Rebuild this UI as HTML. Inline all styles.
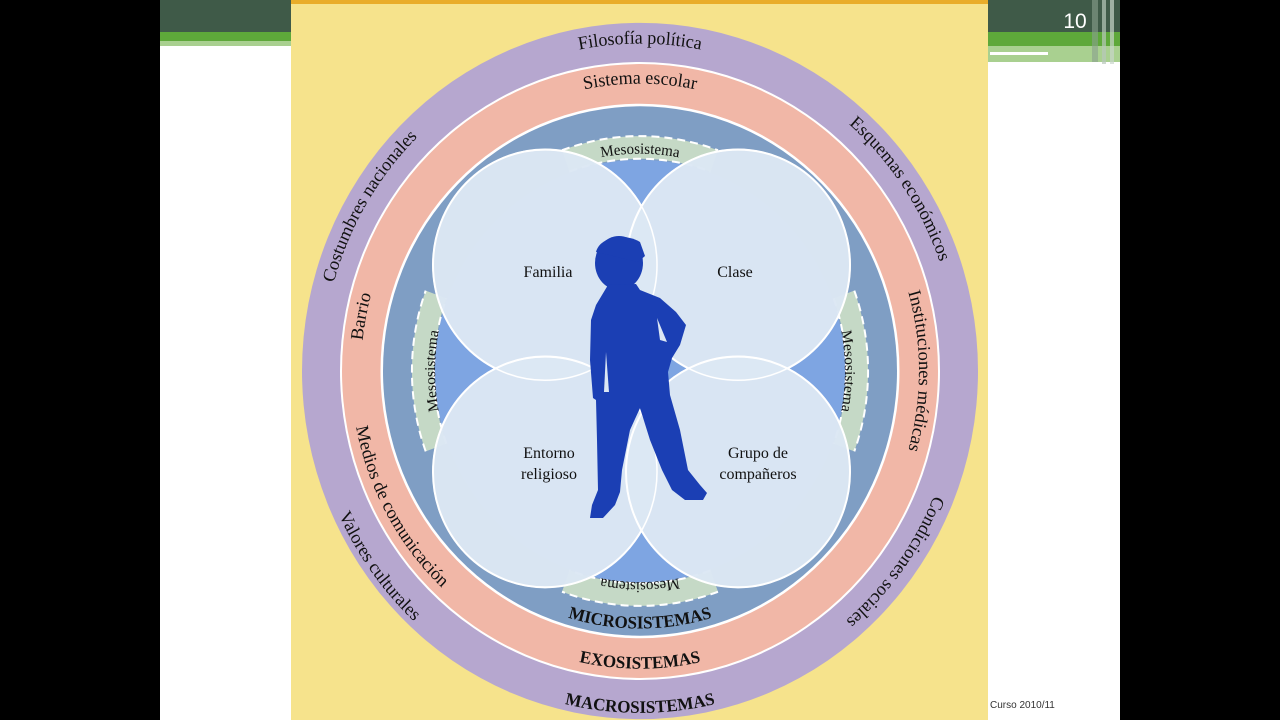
<!DOCTYPE html>
<html><head><meta charset="utf-8"><style>
html,body{margin:0;padding:0;background:#000;}
body{width:1280px;height:720px;overflow:hidden;position:relative;}
</style></head><body>
<svg width="1280" height="720" viewBox="0 0 1280 720" style="position:absolute;left:0;top:0">
<rect x="0" y="0" width="1280" height="720" fill="#000"/>
<rect x="160" y="0" width="960" height="720" fill="#fff"/>
<rect x="160" y="0" width="131" height="32" fill="#3f5a48"/>
<rect x="160" y="32" width="131" height="9" fill="#5ea83a"/>
<rect x="160" y="41" width="131" height="5" fill="#a9d090"/>
<rect x="988" y="0" width="132" height="32" fill="#3f5a48"/>
<rect x="988" y="32" width="132" height="14" fill="#5ea83a"/>
<rect x="988" y="46" width="132" height="16" fill="#a9d090"/>
<rect x="990" y="52" width="58" height="3" fill="#fff"/>
<rect x="1092" y="0" width="6" height="62" fill="#8aa08f" opacity="0.6"/>
<rect x="1102" y="0" width="4" height="64" fill="#b8c8bb" opacity="0.7"/>
<rect x="1110" y="0" width="4" height="64" fill="#c9d6cb" opacity="0.7"/>
<text x="1075" y="28" font-family="Liberation Sans, sans-serif" font-size="21" fill="#fff" text-anchor="middle">10</text>
<text x="990" y="708" font-family="Liberation Sans, sans-serif" font-size="10" fill="#333">Curso 2010/11</text>
<rect x="291" y="0" width="697" height="720" fill="#f6e38c"/>
<rect x="291" y="0" width="697" height="4" fill="#e9ad2a"/>
<g transform="translate(640,371) scale(1,1.03)">
<defs>
<path id="cw318" d="M-318,0 A318,318 0 0 1 318,0 A318,318 0 0 1 -318,0"/>
<path id="cw279" d="M-279,0 A279,279 0 0 1 279,0 A279,279 0 0 1 -279,0"/>
<path id="ccw332" d="M-332,0 A332,332 0 0 0 332,0"/>
<path id="ccw289" d="M-289,0 A289,289 0 0 0 289,0"/>
<path id="ccw250" d="M-250,0 A250,250 0 0 0 250,0"/>
<path id="cw211" d="M-211,0 A211,211 0 0 1 211,0 A211,211 0 0 1 -211,0"/>
<path id="cw205" d="M-205,0 A205,205 0 0 1 205,0 A205,205 0 0 1 -205,0"/>
<path id="cwb205" d="M0,205 A205,205 0 0 1 0,-205 A205,205 0 0 1 0,205"/>
<g id="gap">
<path d="M214.3,-78 A228,228 0 0 1 214.3,78 L193.6,70.5 A206,206 0 0 0 193.6,-70.5 Z" fill="#c5d9c6"/>
<path d="M214.3,-78 A228,228 0 0 1 214.3,78" fill="none" stroke="#fff" stroke-width="2" stroke-dasharray="8,5"/>
<path d="M193.6,-70.5 A206,206 0 0 1 193.6,70.5" fill="none" stroke="#fff" stroke-width="2" stroke-dasharray="8,5"/>
</g>
</defs>
<circle r="338" fill="#b6a7cf"/>
<circle r="300" fill="#fff"/>
<circle r="298" fill="#f1b7a7"/>
<circle r="259.5" fill="#fff"/>
<circle r="257" fill="#7f9ec4"/>
<circle r="205" fill="#7ea5e2"/>
<use href="#gap"/>
<use href="#gap" transform="rotate(90)"/>
<use href="#gap" transform="rotate(180)"/>
<use href="#gap" transform="rotate(270)"/>
<g fill="#dce7f4" stroke="#fff" stroke-width="2" fill-opacity="0.97">
<circle cx="-95" cy="-103" r="112"/>
<circle cx="98" cy="-103" r="112"/>
<circle cx="-95" cy="98" r="112"/>
<circle cx="98" cy="98" r="112"/>
</g>
<g fill="none" stroke="#fff" stroke-width="1.5">
<circle cx="-95" cy="-103" r="112"/>
<circle cx="98" cy="-103" r="112"/>
<circle cx="-95" cy="98" r="112"/>
<circle cx="98" cy="98" r="112"/>
</g>
<g font-family="Liberation Serif, serif" fill="#111" font-size="18">
<text><textPath href="#cw318" startOffset="25%" text-anchor="middle">Filosofía política</textPath></text>
<text><textPath href="#cw318" startOffset="8.5%" text-anchor="middle">Costumbres nacionales</textPath></text>
<text><textPath href="#cw318" startOffset="40.5%" text-anchor="middle">Esquemas económicos</textPath></text>
<text><textPath href="#cw318" startOffset="60%" text-anchor="middle">Condiciones sociales</textPath></text>
<text><textPath href="#ccw332" startOffset="20%" text-anchor="middle">Valores culturales</textPath></text>
<text><textPath href="#cw279" startOffset="25%" text-anchor="middle">Sistema escolar</textPath></text>
<text><textPath href="#cw279" startOffset="3%" text-anchor="middle">Barrio</textPath></text>
<text><textPath href="#cw279" startOffset="50%" text-anchor="middle">Instituciones médicas</textPath></text>
<text><textPath href="#ccw289" startOffset="16%" text-anchor="middle">Medios de comunicación</textPath></text>
<text font-weight="bold" font-size="17"><textPath href="#ccw332" startOffset="50%" text-anchor="middle">MACROSISTEMAS</textPath></text>
<text font-weight="bold" font-size="17"><textPath href="#ccw289" startOffset="50%" text-anchor="middle">EXOSISTEMAS</textPath></text>
<text font-weight="bold" font-size="17"><textPath href="#ccw250" startOffset="50%" text-anchor="middle">MICROSISTEMAS</textPath></text>
<text font-size="15"><textPath href="#cw211" startOffset="25%" text-anchor="middle">Mesosistema</textPath></text>
<text font-size="15"><textPath href="#cw205" startOffset="75%" text-anchor="middle">Mesosistema</textPath></text>
<text font-size="15"><textPath href="#cwb205" startOffset="25%" text-anchor="middle">Mesosistema</textPath></text>
<text font-size="15"><textPath href="#cw205" startOffset="50%" text-anchor="middle">Mesosistema</textPath></text>
</g>
</g>
<g font-family="Liberation Serif, serif" fill="#111" font-size="16" text-anchor="middle">
<text x="548" y="277">Familia</text>
<text x="735" y="277">Clase</text>
<text x="549" y="458">Entorno</text>
<text x="549" y="479">religioso</text>
<text x="758" y="458">Grupo de</text>
<text x="758" y="479">compañeros</text>
</g>
<g fill="#1b3fb4">
<ellipse cx="619" cy="263" rx="24" ry="27"/>
<path d="M596,252 C600,236 626,233 640,242 L645,256 L638,262 Z"/>
<path d="M608,285 L636,284 L640,290 L660,298 L676,312 L686,325 L680,345 L672,358 L668,372 L670,395 L680,430 L688,470 L700,485 L707,493 L703,500 L685,500 L672,490 L662,470 L650,440 L640,408 L630,430 L622,470 L620,492 L615,505 L603,518 L590,518 L592,505 L598,490 L597,440 L596,400 L593,398 L590,360 L591,320 L596,305 Z"/>
</g>
<polygon points="657,318 667,342 660,340" fill="#dce7f4"/>
<polygon points="606,352 609,392 604,392" fill="#dce7f4"/>
</svg>
</body></html>
